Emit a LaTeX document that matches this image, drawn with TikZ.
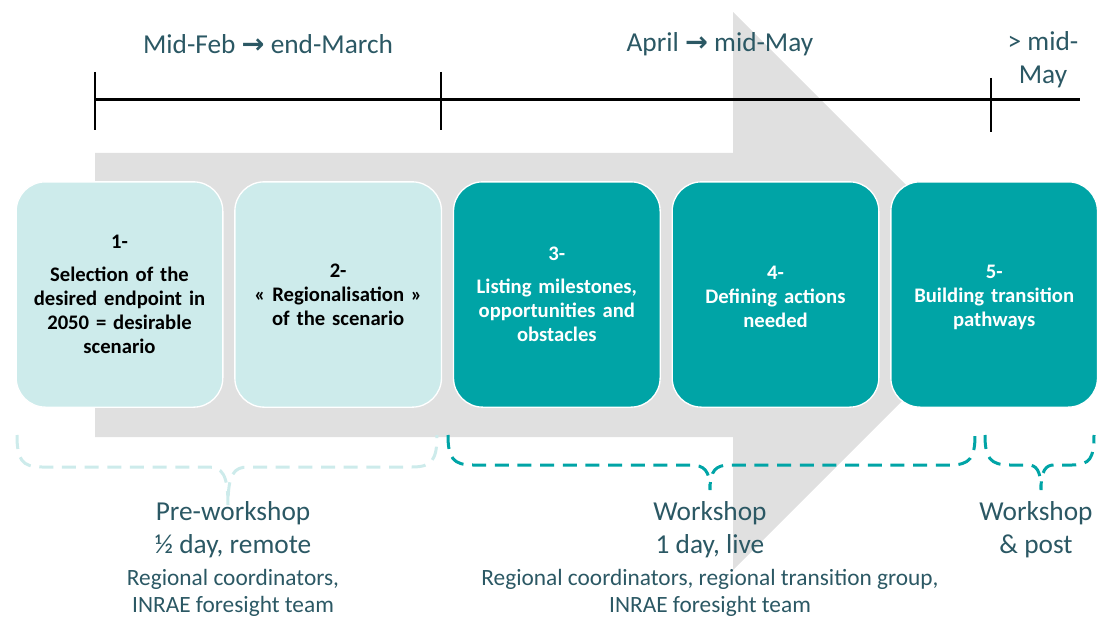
\documentclass[tikz,border=0pt]{standalone}
\usepackage{fontspec}
\setmainfont{Carlito}
\newfontfamily\symfont{DejaVu Sans}
\usepackage{xcolor}
\usepackage{tikz}
\usetikzlibrary{positioning}
\definecolor{lightaqua}{HTML}{CDEBEB}
\definecolor{stepteal}{HTML}{00A4A6}
\definecolor{labelblue}{HTML}{2B5864}
\definecolor{arrowgray}{HTML}{E0E0E0}

\begin{document}
\begin{tikzpicture}[x=0.75pt,y=-0.75pt,
  stepbox/.style={draw=white,line width=1pt,rounded corners=22pt,minimum width=155pt,minimum height=169pt,text width=145pt,align=center,font=\bfseries\fontsize{15.5}{18}\selectfont},
  lightbox/.style={stepbox,fill=lightaqua,text=black},
  darkbox/.style={stepbox,fill=stepteal,text=white},
  datelbl/.style={text=labelblue,align=center,font=\fontsize{20.5}{24.75}\selectfont},
  phasebig/.style={text=labelblue,align=center,font=\fontsize{20.5}{24.75}\selectfont},
  phasesmall/.style={text=labelblue,align=center,font=\fontsize{17.5}{20.25}\selectfont},
  brace/.style={line width=2.25pt,dash pattern=on 10.5pt off 6.5pt}]
\useasboundingbox (0,0) rectangle (1097,617);
% big arrow behind
\fill[arrowgray](95,153)--(733,153)--(733,12)--(1012,291)--(733,570)--(733,437)--(95,437)--cycle;
% timeline
\draw[line width=2.25pt](95,100)--(1080,100);
\draw[line width=2pt](95,72)--(95,130) (441,72)--(441,130) (991,78)--(991,132);
\node[datelbl] (feb) at (268,44) {Mid-Feb {\symfont\bfseries →} end-March};
\node[datelbl] (apr) at (720,44) {April {\symfont\bfseries →} mid-May};
\node[datelbl] (may) at (1043,60) {> mid-\\May};
% steps
\node[lightbox] (box1) at (119.5,294.5) {1-\\[7pt]Selection of the\\desired endpoint in\\2050 = desirable\\scenario};
\node[lightbox,right=8pt of box1] (box2) {2-\\«~Regionalisation~»\\of the scenario};
\node[darkbox,right=8pt of box2] (box3) {3-\\[7pt]Listing milestones,\\opportunities and\\obstacles};
\node[darkbox,right=8pt of box3] (box4) {\\[-4pt]4-\\Defining actions\\needed};
\node[darkbox,right=8pt of box4] (box5) {\\[-4pt]5-\\Building transition\\pathways};
% braces
\draw[brace,lightaqua](17,435)..controls(17,460)and(22,467)..(42,467)--(208,467)..controls(222,467)and(228,474)..(228,505)..controls(228,474)and(234,467)..(248,467)--(412,467)..controls(432,467)and(437,460)..(437,435);
\draw[brace,stepteal](448,435)..controls(448,458)and(453,465)..(473,465)--(690,465)..controls(704,465)and(710,470)..(710,490)..controls(710,470)and(716,465)..(730,465)--(950,465)..controls(970,465)and(975,458)..(975,435);
\draw[brace,stepteal](985,435)..controls(985,458)and(990,465)..(1010,465)--(1028,465)..controls(1036,465)and(1041,470)..(1041,490)..controls(1041,470)and(1046,465)..(1054,465)--(1072,465)..controls(1090,465)and(1094,458)..(1094,435);
% phases
\node[phasebig] (pre) at (233,530) {Pre-workshop\\½ day, remote};
\node[phasesmall] (preteam) at (233,592.5) {Regional coordinators,\\INRAE foresight team};
\node[phasebig] (ws) at (710,530) {Workshop\\1 day, live};
\node[phasesmall] (wsteam) at (710,592.5) {Regional coordinators, regional transition group,\\INRAE foresight team};
\node[phasebig] (post) at (1036,530) {Workshop\\\& post};
\end{tikzpicture}
\end{document}
